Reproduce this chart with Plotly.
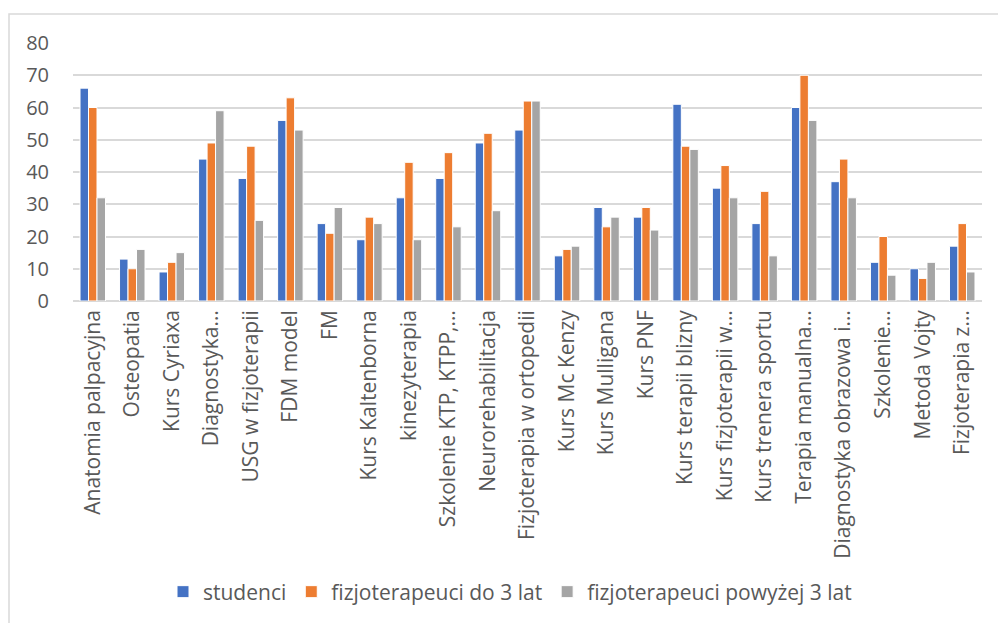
import plotly.graph_objects as go

categories = [
    "Anatomia palpacyjna", "Osteopatia", "Kurs Cyriaxa", "Diagnostyka…",
    "USG w fizjoterapii", "FDM model", "FM", "Kurs Kaltenborna",
    "kinezyterapia", "Szkolenie KTP, KTPP,…", "Neurorehabilitacja",
    "Fizjoterapia w ortopedii", "Kurs Mc Kenzy", "Kurs Mulligana", "Kurs PNF",
    "Kurs terapii blizny", "Kurs fizjoterapii w…", "Kurs trenera sportu",
    "Terapia manualna…", "Diagnostyka obrazowa i…", "Szkolenie…",
    "Metoda Vojty", "Fizjoterapia z…",
]
studenci = [66, 13, 9, 44, 38, 56, 24, 19, 32, 38, 49, 53, 14, 29, 26, 61, 35, 24, 60, 37, 12, 10, 17]
do_3_lat = [60, 10, 12, 49, 48, 63, 21, 26, 43, 46, 52, 62, 16, 23, 29, 48, 42, 34, 70, 44, 20, 7, 24]
powyzej_3_lat = [32, 16, 15, 59, 25, 53, 29, 24, 19, 23, 28, 62, 17, 26, 22, 47, 32, 14, 56, 32, 8, 12, 9]

series = [
    ("studenci", studenci, "#4472C4"),
    ("fizjoterapeuci do 3 lat", do_3_lat, "#ED7D31"),
    ("fizjoterapeuci powyżej 3 lat", powyzej_3_lat, "#A5A5A5"),
]

W, H = 998, 623
ML, MR, MT, MB = 73, 16, 43, 322
plot_w = W - ML - MR
plot_h = H - MT - MB

def px_x(px):
    return (px - ML) / plot_w

def px_y(py):
    return (H - MB - py) / plot_h

fig = go.Figure()
for name, vals, color in series:
    fig.add_trace(go.Bar(
        x=categories, y=vals, name=name,
        marker=dict(color=color, line=dict(color="white", width=1)),
    ))

text_color = "#595959"
grid_color = "#D9D9D9"

fig.update_layout(
    width=W, height=H,
    margin=dict(l=ML, r=MR, t=MT, b=MB, autoexpand=False),
    paper_bgcolor="white", plot_bgcolor="white",
    barmode="group", bargap=0.355, bargroupgap=0,
    font=dict(family="Open Sans", color=text_color),
    showlegend=True,
    legend=dict(
        orientation="h", x=px_x(510), y=px_y(592),
        xanchor="center", yanchor="middle",
        font=dict(family="Open Sans", size=21, color=text_color),
        itemwidth=30, tracegroupgap=0,
    ),
    xaxis=dict(
        type="category", tickangle=-90, showgrid=False, ticks="",
        showline=False, zeroline=False,
        tickfont=dict(family="Open Sans", size=21, color=text_color),
        ticklabelstandoff=4,
    ),
    yaxis=dict(
        range=[0, 80], dtick=10, showgrid=True, gridcolor=grid_color,
        gridwidth=1.5, zeroline=True, zerolinecolor=grid_color,
        zerolinewidth=1.5, showline=False, ticks="",
        tickfont=dict(family="Open Sans", size=20, color=text_color),
        ticklabelstandoff=23,
    ),
    shapes=[dict(
        type="rect", xref="paper", yref="paper",
        x0=px_x(9), x1=px_x(1010), y0=px_y(640), y1=px_y(14),
        line=dict(color=grid_color, width=1.5), layer="below",
    )],
)

fig.write_html("out.html")
